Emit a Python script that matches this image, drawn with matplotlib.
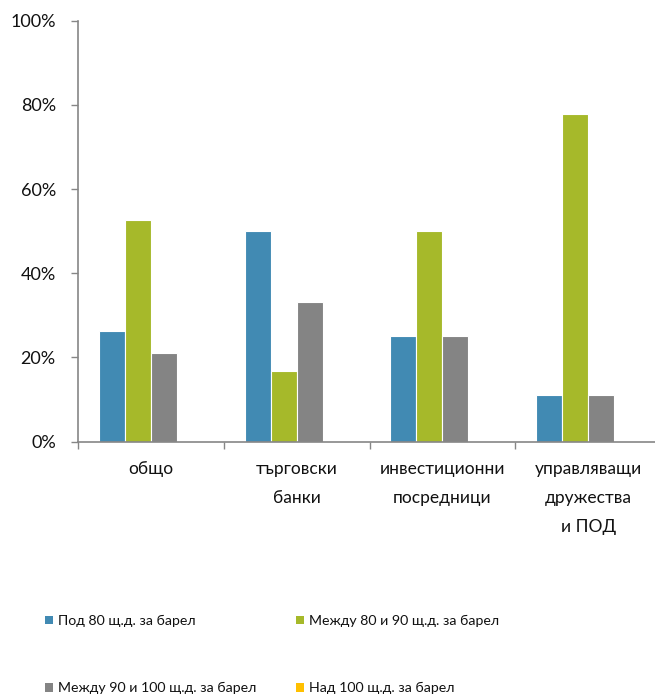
import matplotlib.pyplot as plt
from matplotlib.patches import Patch
from matplotlib.ticker import FuncFormatter
import numpy as np

plt.rcParams['font.family'] = ['Lato', 'DejaVu Sans']

# --- Data ---
categories = ['общо', 'търговски\nбанки', 'инвестиционни\nпосредници',
              'управляващи\nдружества\nи ПОД']
series_names = ['Под 80 щ.д. за барел', 'Между 80 и 90 щ.д. за барел',
                'Между 90 и 100 щ.д. за барел', 'Над 100 щ.д. за барел']
under_80 = [26.3, 50.0, 25.0, 11.1]
between_80_90 = [52.6, 16.7, 50.0, 77.8]
between_90_100 = [21.1, 33.3, 25.0, 11.1]
over_100 = [0, 0, 0, 0]
yticks = [0, 20, 40, 60, 80, 100]

colors = ['#418ab3', '#a6b92a', '#848484', '#ffc000']
axis_col = '#868686'

# --- Figure ---
fig = plt.figure(figsize=(6.55, 6.96), dpi=100)
ax = fig.add_axes((78 / 655, 1 - 441.7 / 696, 583 / 655, 421 / 696))

x = np.arange(len(categories))
w = 0.178
values = [under_80, between_80_90, between_90_100, over_100]
for i, (vals, col) in enumerate(zip(values, colors)):
    ax.bar(x + (i - 1.5) * w, vals, w, color=col, edgecolor='white',
           linewidth=0.8, zorder=1)

ax.set_xlim(-0.5, len(categories) - 0.5)
ax.set_ylim(0, 100)
ax.set_yticks(yticks)
ax.yaxis.set_major_formatter(FuncFormatter(lambda v, p: f'{v:.0f}%'))

ax.set_xticks(x)
ax.set_xticklabels(categories, fontsize=12.5, linespacing=2.0, va='top',
                   color='#111111')
ax.set_xticks(np.arange(len(categories)) - 0.5, minor=True)
ax.tick_params(axis='x', which='major', length=0, pad=14)
ax.tick_params(axis='x', which='minor', length=5, color=axis_col, width=1)
ax.tick_params(axis='y', length=5, color=axis_col, width=1, labelsize=13,
               pad=11, labelcolor='#111111')

for s in ['top', 'right']:
    ax.spines[s].set_visible(False)
for s in ['left', 'bottom']:
    ax.spines[s].set_color(axis_col)
    ax.spines[s].set_linewidth(1.2)

# --- Legend ---
order = [0, 2, 1, 3]
handles = [Patch(facecolor=colors[i], edgecolor='none') for i in order]
labels = [series_names[i] for i in order]
fig.legend(handles, labels, ncol=2, loc='upper left',
           bbox_to_anchor=(45 / 655, 1 - 615 / 696), frameon=False,
           fontsize=10.2, handlelength=0.55, handleheight=0.55,
           handletextpad=0.4, labelspacing=3.9, columnspacing=2.75,
           borderpad=0, borderaxespad=0, labelcolor='#111111')

fig.savefig('out.png', dpi=100)
